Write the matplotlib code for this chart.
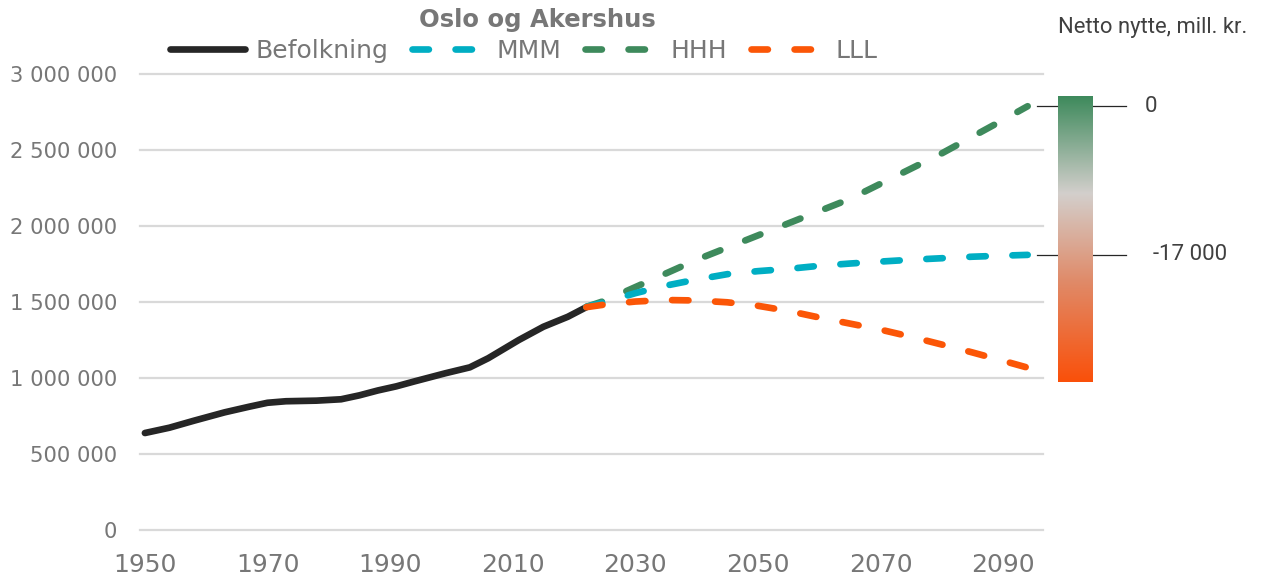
import numpy as np
import matplotlib
matplotlib.use("Agg")
import matplotlib.pyplot as plt
from matplotlib.colors import LinearSegmentedColormap
import matplotlib.transforms as mtransforms

# historisk befolkning, Oslo og Akershus
hist_years = [1950, 1954, 1958, 1963, 1967, 1970, 1973, 1978, 1982, 1985,
              1988, 1991, 1994, 1999, 2003, 2006, 2011, 2015, 2019, 2022]
befolkning = [640000, 675000, 721000, 776000, 813000, 839000, 849000, 853000,
              862000, 888000, 920000, 947000, 980000, 1033000, 1072000, 1132000,
              1252000, 1339000, 1405000, 1468000]

# framskrivinger
proj_years = [2022, 2025, 2030, 2035, 2040, 2045, 2050, 2055, 2060, 2065,
              2070, 2075, 2080, 2085, 2090, 2094]
mmm = [1470000, 1500000, 1560000, 1610000, 1650000, 1685000, 1705000, 1720000,
       1740000, 1755000, 1768000, 1780000, 1790000, 1800000, 1807000, 1812000]
hhh = [1470000, 1510000, 1600000, 1690000, 1780000, 1860000, 1940000, 2020000,
       2100000, 2180000, 2280000, 2380000, 2480000, 2590000, 2700000, 2790000]
lll = [1468000, 1485000, 1505000, 1515000, 1512000, 1500000, 1477000, 1443000,
       1400000, 1360000, 1320000, 1273000, 1222000, 1170000, 1115000, 1070000]

netto_labels = ["0", "-17 000"]
x_ticks = [1950, 1970, 1990, 2010, 2030, 2050, 2070, 2090]
y_ticks = [0, 500000, 1000000, 1500000, 2000000, 2500000, 3000000]
y_labels = [f"{v:,}".replace(",", " ") for v in y_ticks]

c_black = "#262626"
c_mmm = "#00aec3"
c_hhh = "#3e8a5c"
c_lll = "#fb5607"
grey_txt = "#777777"
side_font = "Roboto"

fig = plt.figure(figsize=(12.69, 5.80), dpi=100)
ax = fig.add_axes([140 / 1269, 1 - 530.3 / 580, 903 / 1269, 456 / 580])

lw = 4.8
dash = (2.46, 4.0)
ax.plot(hist_years, befolkning, color=c_black, lw=lw, solid_capstyle="round",
        solid_joinstyle="round", label="Befolkning", zorder=3)
ax.plot(proj_years, mmm, color=c_mmm, lw=lw, dashes=dash,
        dash_capstyle="round", label="MMM", zorder=4)
ax.plot(proj_years, hhh, color=c_hhh, lw=lw, dashes=dash,
        dash_capstyle="round", label="HHH", zorder=3.5)
ax.plot(proj_years, lll, color=c_lll, lw=lw, dashes=dash,
        dash_capstyle="round", label="LLL", zorder=5)

ax.set_xlim(1949.2, 2096.5)
ax.set_ylim(0, 3000000)
ax.set_xticks(x_ticks)
ax.set_yticks(y_ticks)
ax.set_yticklabels(y_labels, fontsize=15.2, family="DejaVu Sans", color=grey_txt)
ax.tick_params(length=0)
ax.tick_params(axis="x", pad=16, labelsize=18, labelcolor=grey_txt)
ax.tick_params(axis="y", pad=16.5)
for s in ax.spines.values():
    s.set_visible(False)
ax.grid(axis="y", color="#d9d9d9", lw=1.6)
ax.set_axisbelow(True)
for gl in ax.get_ygridlines():
    gl.set_clip_on(False)

fig.legend(loc="center", bbox_to_anchor=(524 / 1269, 1 - 51 / 580), ncol=4,
           frameon=False, fontsize=18, handlelength=3.0,
           handletextpad=0.4, columnspacing=0.95, labelcolor=grey_txt)

fig.text(537 / 1269, 1 - 20 / 580, "Oslo og Akershus", ha="center", va="center",
         fontsize=17.5, fontweight="bold", color=grey_txt)

# fargeskala for netto nytte
cmap = LinearSegmentedColormap.from_list(
    "netto", [(0, "#fa500a"), (0.35, "#e08a68"), (0.66, "#d3cfcc"), (1, c_hhh)])
cax = fig.add_axes([1058 / 1269, 1 - 382 / 580, 35 / 1269, 286 / 580])
grad = np.linspace(0, 1, 256).reshape(-1, 1)
cax.imshow(grad, cmap=cmap, aspect="auto", origin="lower")
cax.set_axis_off()

fig.text(1058 / 1269, 1 - 27 / 580, "Netto nytte, mill. kr.", ha="left", va="center",
         fontsize=15.8, color="#404040", family=side_font)

trans = mtransforms.blended_transform_factory(ax.transAxes, ax.transData)
for val, lab, x0 in [(hhh[-1], netto_labels[0], 1.113), (mmm[-1], netto_labels[1], 1.122)]:
    ax.plot([0.993, 1.092], [val, val], transform=trans, color="#262626", lw=0.9,
            clip_on=False, zorder=6)
    ax.text(x0, val, lab, transform=trans, ha="left", va="center", fontsize=16,
            color="#404040", family=side_font)

fig.savefig("out.png", dpi=100)
